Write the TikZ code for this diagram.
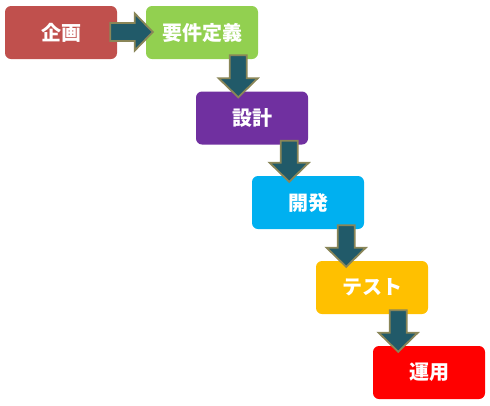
\documentclass[tikz,border=0pt]{standalone}
\usepackage{fontspec}
\setmainfont{Noto Sans CJK JP}
\usetikzlibrary{calc}
\definecolor{cPlan}{HTML}{C0504D}
\definecolor{cReq}{HTML}{92D050}
\definecolor{cDes}{HTML}{7030A0}
\definecolor{cDev}{HTML}{00B0F0}
\definecolor{cTest}{HTML}{FFC000}
\definecolor{cOps}{HTML}{FF0000}
\definecolor{arrFill}{HTML}{215A69}
\definecolor{arrLine}{HTML}{8A8658}
\tikzset{
  phase/.style={rounded corners=6pt, minimum width=112pt, minimum height=53pt,
    inner sep=0pt, text=white, font=\bfseries\fontsize{20}{20}\selectfont},
  blk/.style={fill=arrFill, draw=arrLine, line width=1.8pt, line join=miter}
}
\begin{document}
\begin{tikzpicture}[x=1pt,y=-1pt]
\useasboundingbox (0,0) rectangle (490,405);
\node[phase, fill=cPlan] (plan) at (61,32.5) {企画};
\node[phase, fill=cReq]  (req)  at (202,32.5) {要件定義};
\node[phase, fill=cDes]  (des)  at (252,118) {設計};
\node[phase, fill=cDev]  (dev)  at (308,202.5) {開発};
\node[phase, fill=cTest] (test) at (372,287.5) {テスト};
\node[phase, fill=cOps]  (ops)  at (429,372.5) {運用};
% horizontal arrow plan -> req
\coordinate (h1s) at ($(plan.east)+(-7,-0.5)$);
\coordinate (h1e) at ($(req.west)+(7,-0.5)$);
\draw[blk] let \p1=(h1s), \p2=(h1e) in
  (\x1,\y1+9pt) -- (\x2-18pt,\y1+9pt) -- (\x2-18pt,\y1+18.5pt) -- (\x2,\y1)
  -- (\x2-18pt,\y1-18.5pt) -- (\x2-18pt,\y1-9pt) -- (\x1,\y1-9pt) -- cycle;
% vertical arrows
\coordinate (v1s) at ($(req.south east)+(-20,-4)$);
\coordinate (v1e) at (v1s |- des.north);
\coordinate (v2s) at ($(des.south east)+(-19,-4)$);
\coordinate (v2e) at (v2s |- dev.north);
\coordinate (v3s) at ($(dev.south east)+(-18,-4)$);
\coordinate (v3e) at (v3s |- test.north);
\coordinate (v4s) at ($(test.south east)+(-30,-4)$);
\coordinate (v4e) at (v4s |- ops.north);
\foreach \s/\e in {v1s/v1e, v2s/v2e, v3s/v3e, v4s/v4e}{
  \draw[blk] let \p1=(\s), \p2=(\e) in
    (\x1-8.5pt,\y1) -- (\x1+8.5pt,\y1) -- (\x1+8.5pt,\y2+13pt) -- (\x1+19.5pt,\y2+13pt)
    -- (\x1,\y2-6pt) -- (\x1-19.5pt,\y2+13pt) -- (\x1-8.5pt,\y2+13pt) -- cycle;
}
\end{tikzpicture}
\end{document}
